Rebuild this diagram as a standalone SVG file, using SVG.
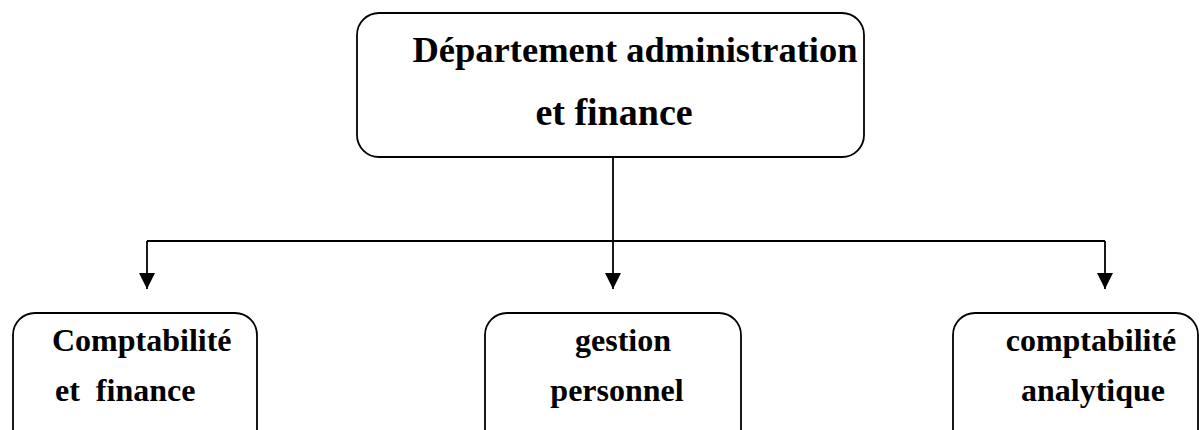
<svg xmlns="http://www.w3.org/2000/svg" width="1200" height="430" viewBox="0 0 1200 430">
<defs>
<style>
.box{fill:#fff;stroke:#000;stroke-width:1.8}
.t{font-family:"Liberation Serif","Times New Roman",serif;font-weight:bold;fill:#000}
.c{stroke:#000;stroke-width:1.8;fill:none}
</style>
<marker id="arr" viewBox="0 0 10 10" refX="10" refY="5" markerWidth="17" markerHeight="16" markerUnits="userSpaceOnUse" orient="auto">
<path d="M0,0 L10,5 L0,10 z" fill="#000"/>
</marker>
</defs>
<rect width="1200" height="430" fill="#fff"/>
<g id="connectors">
<line class="c" x1="613" y1="157" x2="613" y2="241"/>
<line class="c" x1="147" y1="241" x2="1105" y2="241" stroke-width="2.2"/>
<line class="c" x1="147" y1="241" x2="147" y2="289" marker-end="url(#arr)"/>
<line class="c" x1="613" y1="241" x2="613" y2="289" marker-end="url(#arr)"/>
<line class="c" x1="1105" y1="241" x2="1105" y2="289" marker-end="url(#arr)"/>
</g>
<g id="top">
<rect class="box" x="357" y="13" width="507" height="144" rx="22"/>
<text class="t" x="635" y="62" font-size="36.5" text-anchor="middle">Département administration</text>
<text class="t" x="614" y="125" font-size="38" text-anchor="middle">et finance</text>
</g>
<g id="n1">
<rect class="box" x="13" y="313" width="244" height="140" rx="22"/>
<text class="t" x="52" y="351" font-size="32">Comptabilité</text>
<text class="t" x="55" y="401" font-size="32" xml:space="preserve">et  finance</text>
</g>
<g id="n2">
<rect class="box" x="485" y="313" width="256" height="140" rx="22"/>
<text class="t" x="623" y="351" font-size="32" text-anchor="middle">gestion</text>
<text class="t" x="617" y="401" font-size="32" text-anchor="middle">personnel</text>
</g>
<g id="n3">
<rect class="box" x="953" y="313" width="245" height="140" rx="22"/>
<text class="t" x="1091" y="351" font-size="32" text-anchor="middle">comptabilité</text>
<text class="t" x="1093" y="401" font-size="32" text-anchor="middle">analytique</text>
</g>
</svg>
